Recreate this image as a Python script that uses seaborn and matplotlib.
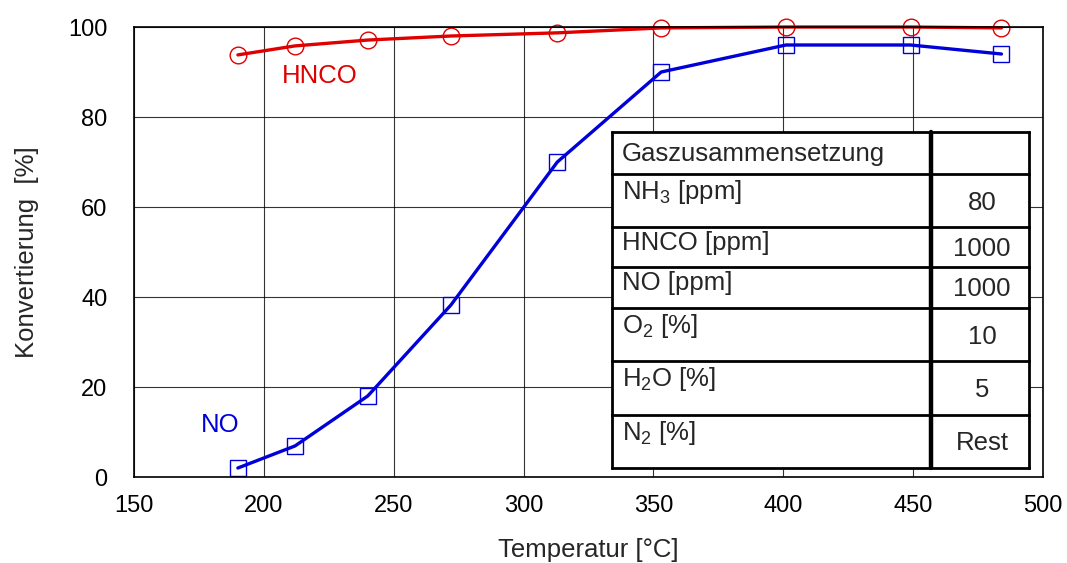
import matplotlib
matplotlib.use("Agg")
import matplotlib.pyplot as plt
import seaborn as sns
import pandas as pd
from matplotlib.patches import Rectangle

# Measured conversion data
temperature = [190, 212, 240, 272, 313, 353, 401, 449, 484]
hnco_conv = [93.8, 95.8, 97.1, 98.0, 98.7, 99.8, 100.0, 100.0, 99.8]
no_conv = [2.0, 6.9, 18.0, 38.2, 70.0, 90.0, 96.0, 96.0, 94.0]

# Gas composition table
gas_labels = ["Gaszusammensetzung", "NH$_3$ [ppm]", "HNCO [ppm]", "NO [ppm]",
              "O$_2$ [%]", "H$_2$O [%]", "N$_2$ [%]"]
gas_values = ["", "80", "1000", "1000", "10", "5", "Rest"]

x_ticks = [150, 200, 250, 300, 350, 400, 450, 500]
y_ticks = [0, 20, 40, 60, 80, 100]

sns.set_style("white")
plt.rcParams["font.family"] = ["Liberation Sans", "DejaVu Sans"]
plt.rcParams["mathtext.default"] = "regular"

df = pd.DataFrame({"T": temperature, "HNCO": hnco_conv, "NO": no_conv})

fig = plt.figure(figsize=(10.67, 5.63), dpi=100)
W, H = 1067, 563
ax = fig.add_axes([134 / W, 1 - 477 / H, (1043 - 134) / W, (477 - 27) / H])

red = "#e00000"
blue = "#0000d8"
sns.lineplot(data=df, x="T", y="HNCO", ax=ax, color=red, lw=2.4,
             marker="o", markersize=12, markerfacecolor="none",
             markeredgecolor=red, markeredgewidth=1.0, clip_on=False)
sns.lineplot(data=df, x="T", y="NO", ax=ax, color=blue, lw=2.4,
             marker="s", markersize=11, markerfacecolor="none",
             markeredgecolor=blue, markeredgewidth=1.0, clip_on=False)

ax.set_xlim(150, 500)
ax.set_ylim(0, 100)
ax.set_xticks(x_ticks)
ax.set_yticks(y_ticks)
ax.grid(True, color="black", lw=0.8, alpha=0.8)
ax.set_axisbelow(True)
for s in ax.spines.values():
    s.set_color("black")
    s.set_linewidth(1.2)
ax.tick_params(direction="in", length=8, width=1.2, labelsize=17,
               colors="black")
ax.tick_params(axis="x", pad=13)
ax.tick_params(axis="y", pad=19)
ax.set_xlabel("Temperatur [°C]", fontsize=18.5, labelpad=15)
ax.set_ylabel("Konvertierung  [%]", fontsize=18.5, labelpad=21)

ax.text(221.5, 89.2, "HNCO", color=red, fontsize=18.5, ha="center", va="center")
ax.text(183, 11.6, "NO", color=blue, fontsize=18.5, ha="center", va="center")

# Gas composition table in its own pixel-based axes
tx0, ty0, tx1, ty1 = 612, 132, 1029, 468
tax = fig.add_axes([tx0 / W, 1 - ty1 / H, (tx1 - tx0) / W, (ty1 - ty0) / H])
tax.set_xlim(0, tx1 - tx0)
tax.set_ylim(ty1 - ty0, 0)
tax.axis("off")
tax.patch.set_visible(False)
tax.add_patch(Rectangle((0, 0), tx1 - tx0, ty1 - ty0, facecolor="white",
                        edgecolor="none", zorder=0))
row_edges = [0, 42, 95, 135, 176, 229, 283, 336]
col_div = 931 - tx0
for y in row_edges:
    tax.plot([0, tx1 - tx0], [y, y], color="black", lw=2.0,
             solid_capstyle="projecting", clip_on=False)
tax.plot([0, 0], [0, ty1 - ty0], color="black", lw=2.0, clip_on=False)
tax.plot([tx1 - tx0, tx1 - tx0], [0, ty1 - ty0], color="black", lw=2.0, clip_on=False)
tax.plot([col_div, col_div], [0, ty1 - ty0], color="black", lw=3.2, clip_on=False)

for i, (lab, val) in enumerate(zip(gas_labels, gas_values)):
    top, bot = row_edges[i], row_edges[i + 1]
    if i == 0:
        tax.text(10, (top + bot) / 2 + 1, lab, fontsize=18.5, va="center", ha="left")
    else:
        tax.text(10, top + 4, lab, fontsize=18.5, va="top", ha="left")
    tax.text((col_div + tx1 - tx0) / 2 + 2, (top + bot) / 2 + 2, val,
             fontsize=18.5, va="center", ha="center")

fig.savefig("out.png", dpi=100)
